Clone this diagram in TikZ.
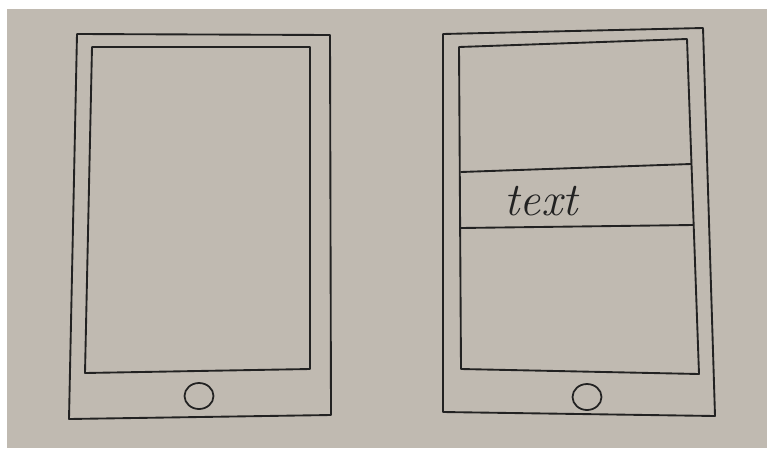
\documentclass[tikz,border=0pt]{standalone}
\usepackage{tikz}
\usetikzlibrary{shapes.geometric}
\definecolor{paper}{HTML}{C0BAB1}
\definecolor{ink}{HTML}{222222}
\tikzset{
  pen/.style={draw=ink, line width=1.6pt, line join=round, line cap=round},
  homekey/.style={draw=ink, line width=1.5pt, ellipse, minimum width=0.87cm,
                  minimum height=0.78cm, inner sep=0pt},
  scribble/.style={text=ink, inner sep=0pt, font=\itshape\fontsize{40}{40}\selectfont}
}
\begin{document}
\begin{tikzpicture}[x=0.03cm,y=-0.03cm]
    \fill[white] (0,0) rectangle (767,448);
    \fill[paper] (7,9) rectangle (767,448);

    % plain tablet
    \draw[pen] (77,34) -- (330,35) -- (331,415) -- (69,419) -- cycle;
    \draw[pen] (92,47) -- (310,47) -- (310,369) -- (85,373) -- cycle;
    \node[homekey] (keyL) at (199,396) {};

    % tablet with a text band
    \draw[pen] (443,34) -- (703,28) -- (715,416) -- (443,412) -- cycle;
    \draw[pen] (459,47) -- (687,39) -- (699,374) -- (461,369) -- cycle;
    \draw[pen] (461,172) -- (691,164);
    \draw[pen] (461,228) -- (693,225);
    \node[scribble] (band) at (541,201) {text};
    \node[homekey] (keyR) at (587,397) {};
  \end{tikzpicture}
\end{document}
